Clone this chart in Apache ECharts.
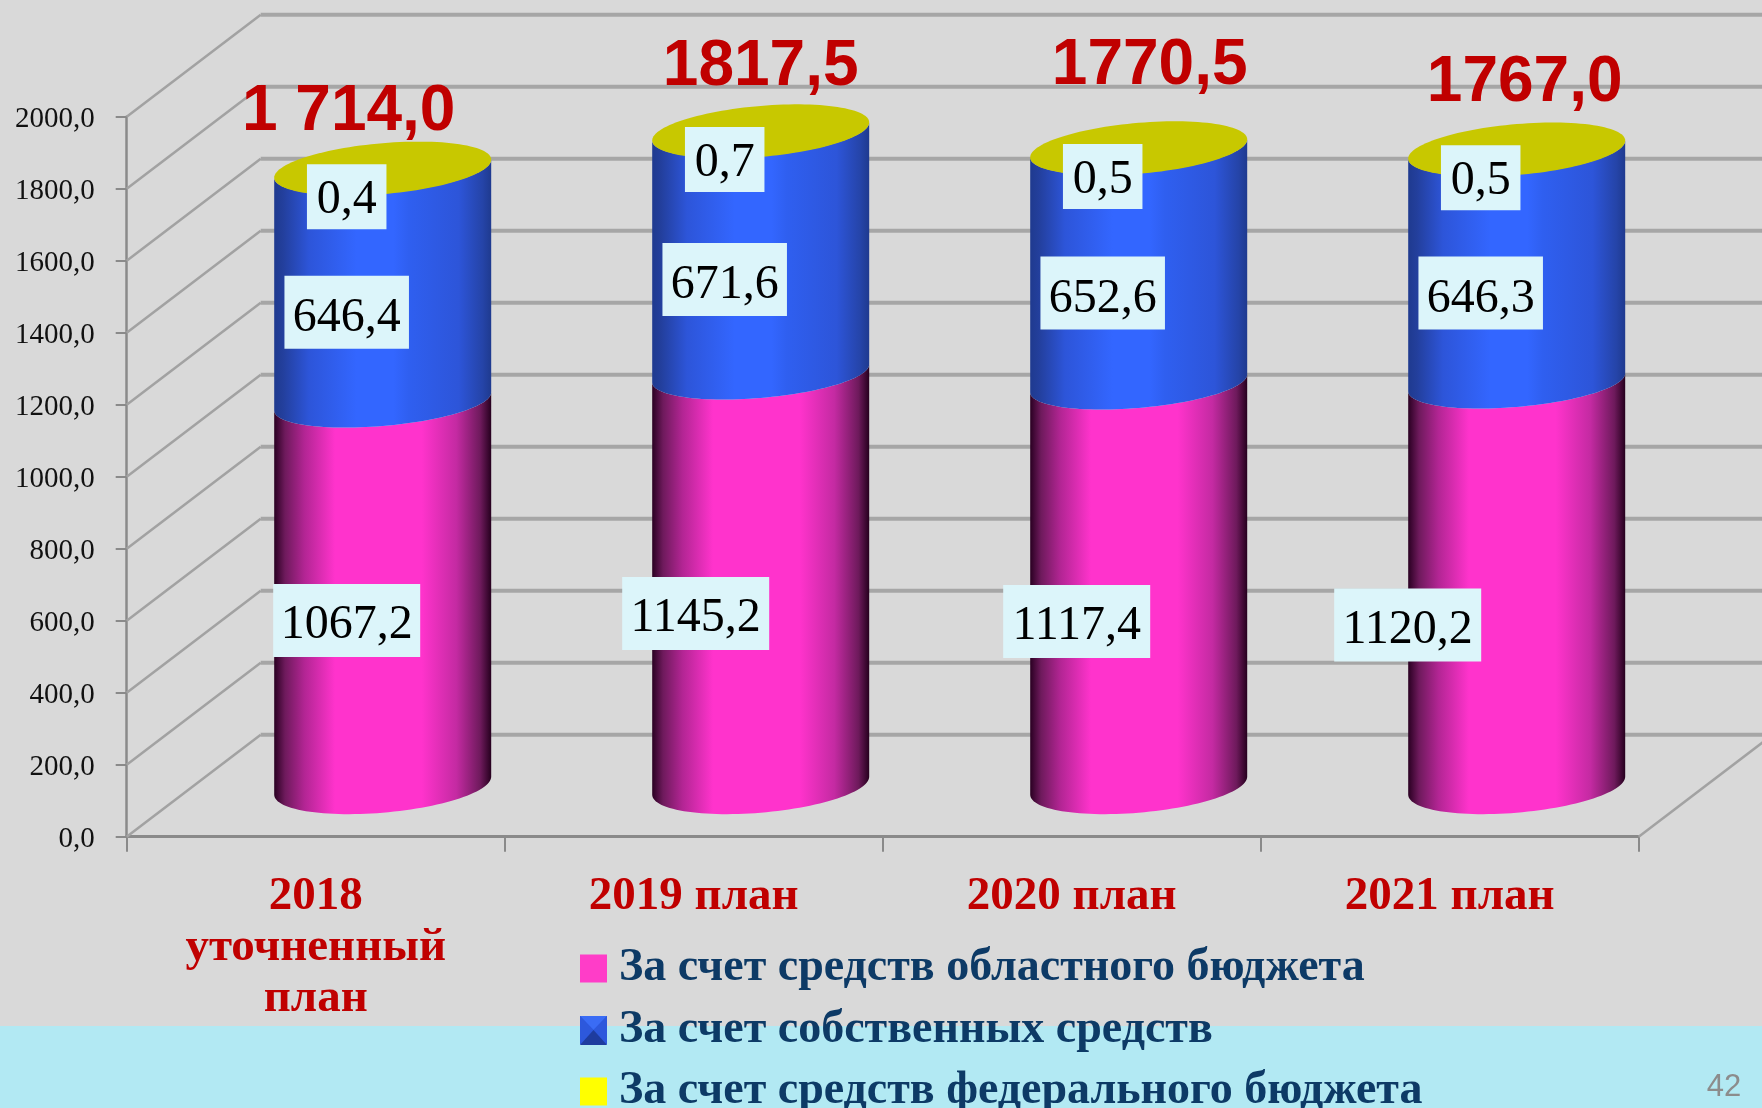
<!DOCTYPE html>
<html><head><meta charset="utf-8">
<style>html,body{margin:0;padding:0;background:#d9d9d9}#c{width:1762px;height:1108px}</style>
<script src="https://cdn.jsdelivr.net/npm/echarts@6/dist/echarts.min.js"></script>
</head><body><div id="c"></div>
<script>
// ---- data ----
const categories = ['2018\nуточненный\nплан', '2019 план', '2020 план', '2021 план'];
const regional = [1067.2, 1145.2, 1117.4, 1120.2];
const own = [646.4, 671.6, 652.6, 646.3];
const federal = [0.4, 0.7, 0.5, 0.5];
const totals = [1714.0, 1817.5, 1770.5, 1767.0];
const totalLabels = ['1 714,0', '1817,5', '1770,5', '1767,0'];
const seriesNames = ['За счет средств областного бюджета', 'За счет собственных средств', 'За счет средств федерального бюджета'];
const yMin = 0, yMax = 2000, yStep = 200;
const yTicks = [0, 200, 400, 600, 800, 1000, 1200, 1400, 1600, 1800, 2000];
const pageNumber = '42';

// ---- layout / style ----
const DX = 134, DY = 102;             // depth of the pseudo-3D box
const HALF = 108.5, SHEAR = 0.083, MINOR = 24.5;
const serif = '"Liberation Serif", serif';
const regionalNudge = [[31, 27], [2, 34], [5, 37], [-42, 41]];
const ownNudge = [[31, 27], [31, 27], [31, 27], [31, 27]];
const fedNudge = [[31, 28], [31, 28], [31, 28], [31, 28]];
const totalNudge = [[-34, -56.5], [0, -64.5], [11, -81.5], [8, -66.5]];

function shade(stops) {
  return { type: 'linear', x: 0, y: 0, x2: 1, y2: 0, colorStops: stops.map(s => ({ offset: s[0], color: s[1] })) };
}
const magentaFill = shade([[0, '#2a0022'], [0.05, '#6e1a5c'], [0.14, '#b32594'], [0.28, '#ff33cc'], [0.68, '#ff33cc'], [0.84, '#c42aa2'], [0.95, '#6e1a5c'], [1, '#26001e']]);
const blueFill = shade([[0, '#1f3a8f'], [0.04, '#233f9c'], [0.16, '#2d55d9'], [0.38, '#3366ff'], [0.55, '#3366ff'], [0.62, '#2f5ff0'], [0.85, '#2d55d9'], [0.96, '#2544a8'], [1, '#1f3a8f']]);
const fills = [magentaFill, blueFill, blueFill];

function frontArc(cx, cy, minor, reverse) {
  const pts = [];
  for (let i = 0; i <= 60; i++) {
    const t = Math.PI * i / 60;           // from the left end round the front to the right end
    const x = -Math.cos(t) * HALF;
    pts.push([cx + x, cy - SHEAR * x + minor * Math.sin(t)]);
  }
  return reverse ? pts.reverse() : pts;
}
function segmentRender(fill) {
  return function (params, api) {
    const i = api.value(0), lo = api.value(1), hi = api.value(2);
    const a = api.coord([i, lo]), b = api.coord([i, hi]);
    const cx = a[0] + DX / 2;
    const minorLo = lo === 0 ? 27 : MINOR;
    const pts = frontArc(cx, a[1] - DY / 2, minorLo, false).concat(frontArc(cx, b[1] - DY / 2, MINOR, true));
    return { type: 'polygon', shape: { points: pts }, style: { fill: fill }, silent: true };
  };
}
function capRender(params, api) {
  const i = api.value(0), hi = api.value(1);
  const p = api.coord([i, hi]);
  const cx = p[0] + DX / 2, cy = p[1] - DY / 2, pts = [];
  for (let k = 0; k < 120; k++) {
    const t = 2 * Math.PI * k / 120, x = Math.cos(t) * HALF;
    pts.push([cx + x, cy - SHEAR * x + (MINOR + 1) * Math.sin(t)]);
  }
  return { type: 'polygon', shape: { points: pts }, style: { fill: '#c8c800' }, silent: true };
}
function valueLabelRender(nudge, boxH, textShift) {
  return function (params, api) {
    const i = api.value(0), mid = (api.value(1) + api.value(2)) / 2;
    const p = api.coord([i, mid]);
    const txt = String(api.value(3));
    const x = p[0] + nudge[i][0], y = p[1] - DY / 2 + nudge[i][1];
    const w = txt.length * 22.5 + 12;
    return { type: 'group', silent: true, children: [
      { type: 'rect', shape: { x: x - w / 2, y: y - boxH / 2, width: w, height: boxH }, style: { fill: '#dcf5fa' } },
      { type: 'text', style: { text: txt, x: x, y: y + textShift, align: 'center', verticalAlign: 'middle', font: '48px ' + serif, fill: '#000' } }
    ] };
  };
}
function totalRender(params, api) {
  const i = api.value(0), p = api.coord([i, api.value(1)]);
  return { type: 'text', silent: true, style: {
    text: totalLabels[i], x: p[0] + DX / 2 + totalNudge[i][0], y: p[1] - DY / 2 + totalNudge[i][1],
    align: 'center', verticalAlign: 'middle', font: 'bold 64px "Liberation Sans", sans-serif', fill: '#c00000' } };
}
function wallRender(params, api) {
  const v = api.value(0), cs = params.coordSys;
  const y = api.coord([0, v])[1], L = cs.x, R = cs.x + cs.width;
  const kids = [
    { type: 'line', shape: { x1: L, y1: y, x2: L + DX, y2: y - DY }, style: { stroke: '#a2a2a2', lineWidth: 2.5 } },
    { type: 'line', shape: { x1: L + DX, y1: y - DY, x2: R + DX, y2: y - DY }, style: { stroke: '#a6a6a6', lineWidth: 4 } }
  ];
  if (v === yMin) kids.push({ type: 'line', shape: { x1: R, y1: y, x2: R + DX, y2: y - DY }, style: { stroke: '#a2a2a2', lineWidth: 2.5 } });
  return { type: 'group', silent: true, children: kids };
}
const fmt = v => Number(v).toFixed(1).replace('.', ',');

let base = categories.map(() => 0);
const stacks = [regional, own, federal];
const segSeries = [], labelSeries = [];
const nudges = [regionalNudge, ownNudge, fedNudge];
const boxHeights = [73, 73, 65];
const textShifts = [5, 6, 4];
stacks.forEach((vals, s) => {
  const rows = vals.map((v, i) => [i, base[i], base[i] + v, fmt(v)]);
  segSeries.push({ name: seriesNames[s], type: 'custom', z: 3 + s, renderItem: segmentRender(fills[s]),
    data: rows, encode: { x: 0, y: [1, 2] }, itemStyle: { color: ['#ff33cc', '#3366ff', '#ffff00'][s] }, animation: false });
  labelSeries.push({ type: 'custom', z: 10, renderItem: valueLabelRender(nudges[s], boxHeights[s], textShifts[s]),
    dimensions: ['x', 'lo', 'hi', { name: 'text', type: 'ordinal' }],
    data: rows, encode: { x: 0, y: [1, 2] }, animation: false });
  base = base.map((b, i) => b + vals[i]);
});

// bevel of the blue legend key, laid over its legend marker
const kx0 = 580, kx1 = 607, ky0 = 1016, ky1 = 1045, kcx = 593.5, kcy = 1030;
const keyFace = (a, b, fill) => ({ type: 'polygon', z: 20, shape: { points: [a, b, [kcx, kcy]] }, style: { fill: fill } });

const chart = echarts.init(document.getElementById('c'), null, { renderer: 'canvas' });
chart.setOption({
  animation: false,
  backgroundColor: '#d9d9d9',
  graphic: [
    { type: 'rect', z: -1, shape: { x: 0, y: 1026, width: 1762, height: 82 }, style: { fill: '#b2e9f3' } },
    keyFace([kx0, ky0], [kx1, ky0], '#3a6cf5'),
    keyFace([kx0, ky0], [kx0, ky1], '#2d58dc'),
    keyFace([kx1, ky0], [kx1, ky1], '#2d58dc'),
    keyFace([kx0, ky1], [kx1, ky1], '#1e3c9e'),
    { type: 'text', z: 20, style: { text: pageNumber, x: 1724, y: 1087, align: 'center', verticalAlign: 'middle',
      font: '31px "Liberation Sans", sans-serif', fill: '#8c8c8c' } }
  ],
  grid: { left: 126.7, right: 123.3, top: 116.7, bottom: 271.3 },
  xAxis: { type: 'category', data: categories,
    axisLine: { lineStyle: { color: '#8a8a8a', width: 3 } },
    axisTick: { show: true, length: 15, lineStyle: { color: '#8a8a8a', width: 2 } },
    axisLabel: { interval: 0, margin: 35, color: '#c00000', fontFamily: serif, fontWeight: 'bold', fontSize: 47, lineHeight: 51, align: 'center', verticalAlign: 'top' } },
  yAxis: { type: 'value', min: yMin, max: yMax, interval: yStep,
    axisLine: { show: true, lineStyle: { color: '#8a8a8a', width: 2.5 } },
    axisTick: { show: true, length: 11, lineStyle: { color: '#8a8a8a', width: 2 } },
    splitLine: { show: false },
    axisLabel: { margin: 32, color: '#111', fontFamily: serif, fontSize: 29, verticalAlign: 'top', lineHeight: 6, formatter: fmt } },
  legend: { show: true, orient: 'vertical', left: 575, top: 936.5, height: 300, padding: 5, itemWidth: 27, itemHeight: 28, itemGap: 7.5,
    textStyle: { color: '#0d3a66', fontFamily: serif, fontWeight: 'bold', fontSize: 46, lineHeight: 46, padding: [0, 0, 8, 7] },
    selectedMode: false,
    data: [
      { name: seriesNames[0], icon: 'rect', itemStyle: { color: '#ff3dc8' } },
      { name: seriesNames[1], icon: 'rect', itemStyle: { color: '#2d58dc' } },
      { name: seriesNames[2], icon: 'rect', itemStyle: { color: '#ffff00' } }
    ] },
  series: [
    { type: 'custom', z: 1, renderItem: wallRender, data: yTicks.map(v => [v]), coordinateSystem: 'cartesian2d', encode: { y: 0 }, animation: false },
    ...segSeries,
    { type: 'custom', z: 8, renderItem: capRender, data: totals.map((v, i) => [i, v]), encode: { x: 0, y: 1 }, animation: false },
    ...labelSeries,
    { type: 'custom', z: 11, renderItem: totalRender, data: totals.map((v, i) => [i, v]), encode: { x: 0, y: 1 }, animation: false }
  ]
});
</script></body></html>
